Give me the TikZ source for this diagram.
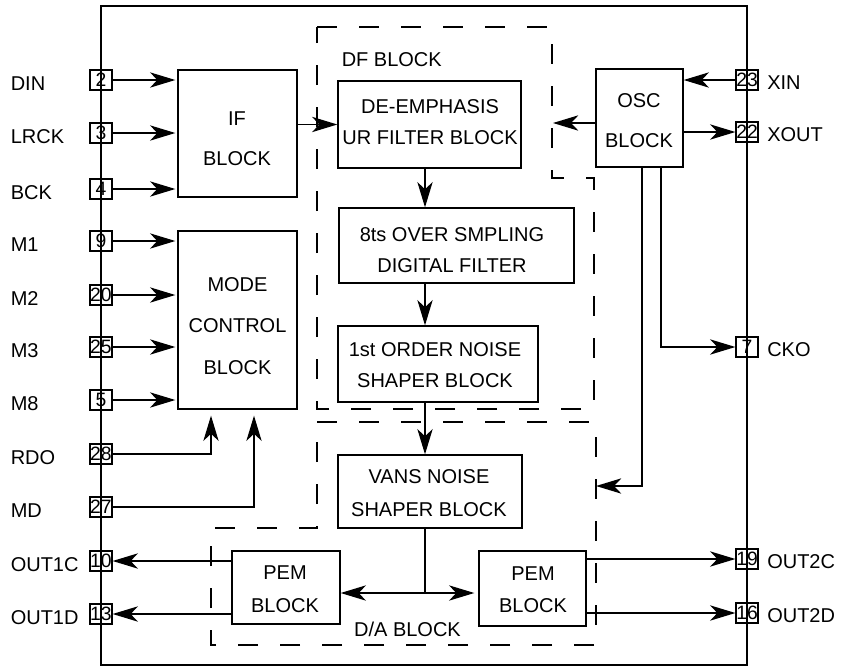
\documentclass[tikz,border=0pt]{standalone}
\usepackage{fontspec}
\setmainfont{Liberation Sans}
\usetikzlibrary{arrows.meta}
\newcommand\mkblk[5]{\node[blk, minimum width={(#4-#2)*0.75pt}, minimum height={(#5-#3)*0.75pt}] (#1) at ({(#2+#4)/2},{(#3+#5)/2}) {};}
\tikzset{
  blk/.style={draw, line width=1pt, inner sep=0pt},
  txt/.style={align=center, inner sep=0pt},
  pinbox/.style={draw, line width=0.9pt, inner sep=0pt, minimum width=16.5pt, minimum height=15pt, font=\fontsize{14.5}{14.5}\selectfont},
  lbl/.style={anchor=west, inner sep=0pt, font=\fontsize{15}{18}\selectfont},
  arr/.style={line width=1pt, -{Stealth[length=19pt,width=11.5pt,inset=5.5pt]}},
  ln/.style={line width=1pt},
  dsh/.style={line width=0.9pt, dash pattern=on 15pt off 16.5pt},
}
\begin{document}
\begin{tikzpicture}[x=0.75pt,y=-0.75pt]
\useasboundingbox (0,0) rectangle (854,668);
% outer chip outline
\draw[line width=1.5pt] (101,6) rectangle (747,665);
% dashed block outlines
\draw[dsh] (317,27) -- (552,27) -- (552,178) -- (594,178) -- (594,409) -- (317,409) -- cycle;
\draw[dsh] (317,422) -- (596,422) -- (596,645) -- (211,645) -- (211,528) -- (317,528) -- cycle;
\node[lbl] (dfl) at (341.5,59.5) {DF BLOCK};
\node[txt, font=\fontsize{15}{18}\selectfont] (dal) at (407.5,629) {D/A BLOCK};
% blocks
\mkblk{if}{178}{70}{297}{197}
\mkblk{mode}{178}{231}{297}{409}
\mkblk{de}{338}{81}{521}{168}
\mkblk{ov}{339}{208}{574}{283}
\mkblk{fo}{338}{326}{538}{402}
\mkblk{va}{338}{455}{522}{528}
\mkblk{pemL}{232}{551}{340}{624}
\mkblk{pemR}{479}{551}{586}{626}
\mkblk{osc}{596}{69}{683}{167}
\node[txt, font=\fontsize{15}{30}\selectfont] (ifT) at (237,139) {IF\\BLOCK};
\node[txt, font=\fontsize{15}{31}\selectfont] (modeT) at (237.5,326) {MODE\\CONTROL\\BLOCK};
\node[txt, font=\fontsize{15}{23.6}\selectfont] (deT) at (430,122) {DE-EMPHASIS\\UR FILTER BLOCK};
\node[txt, font=\fontsize{15}{23.3}\selectfont] (ovT) at (452,250) {8ts OVER SMPLING\\DIGITAL FILTER};
\node[txt, font=\fontsize{15}{23.3}\selectfont] (foT) at (435,365) {1st ORDER NOISE\\SHAPER BLOCK};
\node[txt, font=\fontsize{15}{25}\selectfont] (vaT) at (429,493) {VANS NOISE\\SHAPER BLOCK};
\node[txt, font=\fontsize{15}{24.4}\selectfont] (pemLT) at (285,589) {PEM\\BLOCK};
\node[txt, font=\fontsize{15}{24}\selectfont] (pemRT) at (533,590) {PEM\\BLOCK};
\node[txt, font=\fontsize{15}{30}\selectfont] (oscT) at (639,121) {OSC\\BLOCK};
% left pins
\foreach \n/\y/\t in {2/80/DIN,3/133/LRCK,4/189/BCK,9/241/M1,20/295/M2,25/347/M3,5/400/M8,28/454/RDO,27/507/MD,10/561/OUT1C,13/614/OUT1D}{
  \node[pinbox] (p\n) at (101,\y) {\n};
  \node[lbl] (l\n) at (10.5,\y+4) {\t};
}
% right pins
\foreach \n/\y/\t in {23/80/XIN,22/132/XOUT,7/347/CKO,19/559/OUT2C,16/613/OUT2D}{
  \node[pinbox] (p\n) at (747,\y) {\n};
  \node[lbl] (l\n) at (767,\y+3) {\t};
}
% inputs to IF and MODE
\foreach \n in {2,3,4}{\draw[arr, shorten >=1.5pt] (p\n.east) -- (p\n.east -| if.west);}
\foreach \n in {9,20,25,5}{\draw[arr, shorten >=1.5pt] (p\n.east) -- (p\n.east -| mode.west);}
\coordinate (rx) at (211,0);
\coordinate (mx) at (254,0);
\draw[arr, shorten >=4.5pt] (p28.east) -| (rx |- mode.south);
\draw[arr, shorten >=4.5pt] (p27.east) -| (mx |- mode.south);
% DF chain
\draw[arr] (de.west -| if.east) -- (de.west);
\coordinate (cx) at (425,0);
\draw[arr] (de.south -| cx) -- (ov.north -| cx);
\draw[arr] (ov.south -| cx) -- (fo.north -| cx);
\draw[arr] (fo.south -| cx) -- (va.north -| cx);
\coordinate (split) at (425,593);
\draw[ln] (va.south -| cx) -- (split);
\draw[arr] (split) -- (split -| pemL.east);
\draw[arr, shorten >=3pt] (split) -- (split -| pemR.west);
% OSC connections
\coordinate (dfr) at (553,123);
\draw[arr] (osc.west |- dfr) -- (dfr);
\draw[arr] (p23.west) -- (p23.west -| osc.east);
\draw[arr] (osc.east |- p22) -- (p22.west);
\coordinate (ox1) at (661,0);
\coordinate (ox2) at (642,0);
\coordinate (dar) at (596,486);
\draw[arr] (osc.south -| ox1) |- (p7.west);
\draw[arr] (osc.south -| ox2) |- (dar);
% outputs
\draw[arr] (pemL.west |- p10) -- (p10.east);
\draw[arr] (pemL.west |- p13) -- (p13.east);
\draw[arr] (pemR.east |- p19) -- (p19.west);
\draw[arr] (pemR.east |- p16) -- (p16.west);
\end{tikzpicture}
\end{document}
